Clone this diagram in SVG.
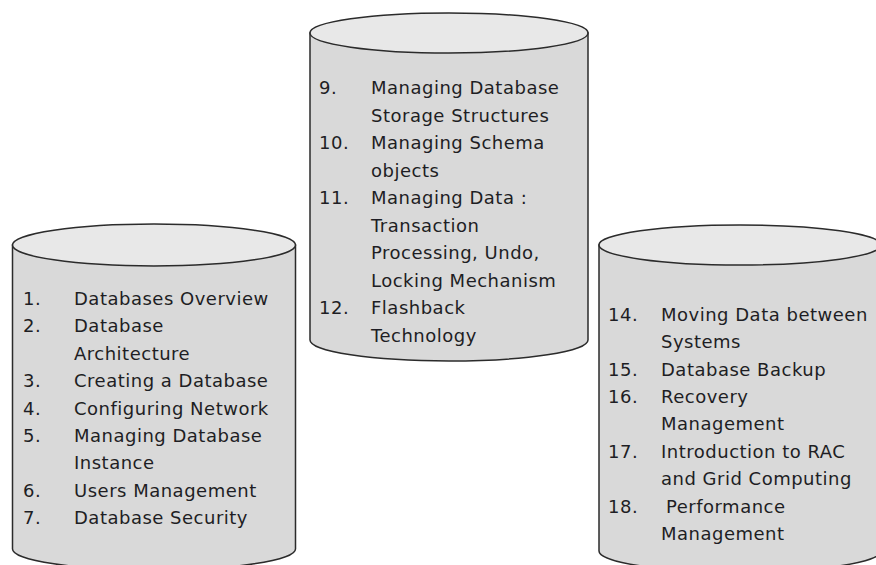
<svg xmlns="http://www.w3.org/2000/svg" width="876" height="565" viewBox="0 0 876 565">
<style>
.body{fill:#d9d9d9;stroke:#2b2b2b;stroke-width:1.5}
.top{fill:#e8e8e8;stroke:#2b2b2b;stroke-width:1.5}
text{font-family:"DejaVu Sans","Liberation Sans",sans-serif;font-size:18px;fill:#1e1e24;letter-spacing:0.5px}
</style>
<rect width="876" height="565" fill="#ffffff"/>
<g id="node-left">
<path class="body" d="M12.5,245 L12.5,549 A141.5,21 0 0 0 295.5,549 L295.5,245 Z"/>
<ellipse class="top" cx="154" cy="245" rx="141.5" ry="21"/>
<text x="23" y="305">1.</text><text x="74" y="305">Databases Overview</text>
<text x="23" y="332.4">2.</text><text x="74" y="332.4">Database</text>
<text x="74" y="359.8">Architecture</text>
<text x="23" y="387.2">3.</text><text x="74" y="387.2">Creating a Database</text>
<text x="23" y="414.6">4.</text><text x="74" y="414.6">Configuring Network</text>
<text x="23" y="442">5.</text><text x="74" y="442">Managing Database</text>
<text x="74" y="469.4">Instance</text>
<text x="23" y="496.8">6.</text><text x="74" y="496.8">Users Management</text>
<text x="23" y="524.2">7.</text><text x="74" y="524.2">Database Security</text>
</g>
<g id="node-middle">
<path class="body" d="M310,33 L310,340 A139,21 0 0 0 588,340 L588,33 Z"/>
<ellipse class="top" cx="449" cy="33" rx="139" ry="20"/>
<text x="319" y="94.3">9.</text><text x="371" y="94.3">Managing Database</text>
<text x="371" y="121.8">Storage Structures</text>
<text x="319" y="149.3">10.</text><text x="371" y="149.3">Managing Schema</text>
<text x="371" y="176.8">objects</text>
<text x="319" y="204.3">11.</text><text x="371" y="204.3">Managing Data :</text>
<text x="371" y="231.8">Transaction</text>
<text x="371" y="259.3">Processing, Undo,</text>
<text x="371" y="286.8">Locking Mechanism</text>
<text x="319" y="314.3">12.</text><text x="371" y="314.3">Flashback</text>
<text x="371" y="341.8">Technology</text>
</g>
<g id="node-right">
<path class="body" d="M599,245 L599,551 A141,21 0 0 0 881,551 L881,245 Z"/>
<ellipse class="top" cx="740" cy="245" rx="141" ry="20"/>
<text x="608" y="320.7">14.</text><text x="661" y="320.7">Moving Data between</text>
<text x="661" y="348.1">Systems</text>
<text x="608" y="375.5">15.</text><text x="661" y="375.5">Database Backup</text>
<text x="608" y="402.9">16.</text><text x="661" y="402.9">Recovery</text>
<text x="661" y="430.3">Management</text>
<text x="608" y="457.7">17.</text><text x="661" y="457.7">Introduction to RAC</text>
<text x="661" y="485.1">and Grid Computing</text>
<text x="608" y="512.5">18.</text><text x="666" y="512.5">Performance</text>
<text x="661" y="539.9">Management</text>
</g>
<g id="connectors"/>
</svg>
